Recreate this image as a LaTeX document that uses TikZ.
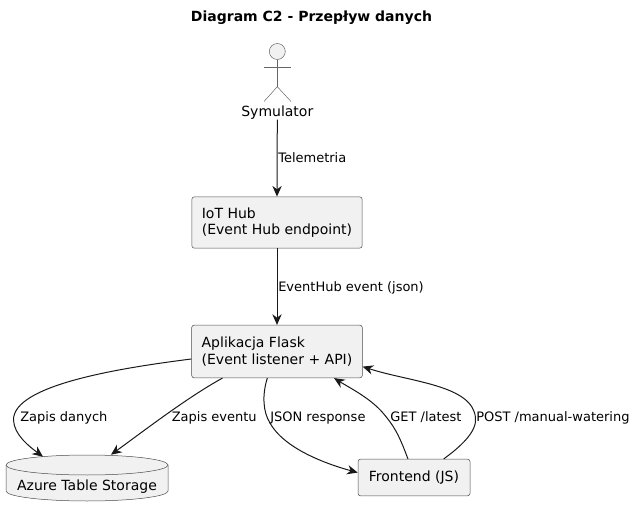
\documentclass[tikz,border=0pt]{standalone}
\usepackage{fontspec}
\setmainfont{DejaVu Sans}
\usetikzlibrary{%
  arrows.meta,%
  calc%
}

\begin{document}
\begin{tikzpicture}[
  x=0.75pt, y=-0.75pt,
  font=\fontsize{10.5}{12.3}\selectfont,
  >={Stealth[length=8pt,width=7pt,inset=2.6pt]},
  box/.style={rectangle, draw=black!70, fill=black!5.5, line width=0.375pt, rounded corners=1.9pt, align=left, inner xsep=7.5pt, inner ysep=0pt},
  store/.style={draw=black!70, line width=0.375pt},
  stick/.style={draw=black!60, line width=0.375pt},
  flow/.style={->, draw=black!90, line width=0.75pt},
  edgetext/.style={anchor=west, inner sep=0pt, text height=7.5pt, text depth=2pt, font=\fontsize{9.75}{12}\selectfont}
]
\useasboundingbox (0,0) rectangle (635,516);

\node[font=\fontsize{10.5}{12}\bfseries] (title) at (311.5,18) {Diagram C2 - Przepływ danych};

% actor
\node[circle, stick, fill=black!5.5, minimum size=12pt, inner sep=0pt] (head) at (277.3,51.5) {};
\coordinate (hip) at (277.3,86.7);
\coordinate (armL) at (264,67);
\coordinate (armR) at (291,67);
\coordinate (legL) at (264,101.5);
\coordinate (legR) at (291,101.5);
\draw[stick] (head) -- (hip);
\draw[stick] (armL) -- (armR);
\draw[stick] (legL) -- (hip) -- (legR);
\node[inner sep=0pt] (sym) at (277.3,112.5) {Symulator};

\node[box, minimum width=127.5pt, minimum height=38.5pt] (iot) at (277,222.5) {IoT Hub\\(Event Hub endpoint)};
\node[box, minimum width=127.5pt, minimum height=39.5pt] (flask) at (277,351.5) {Aplikacja Flask\\(Event listener + API)};
\node[box, minimum width=84pt, minimum height=27.5pt] (front) at (414,477.5) {Frontend (JS)};

% database
\coordinate (dbc) at (87,478);
\draw[store, fill=black!5.5] ($(dbc)+(-60.75pt,9.75pt)$) arc[start angle=180, end angle=0, x radius=60.75pt, y radius=7.5pt]
  -- ($(dbc)+(60.75pt,-9.75pt)$) arc[start angle=0, end angle=-180, x radius=60.75pt, y radius=7.5pt] -- cycle;
\draw[store] ($(dbc)+(-60.75pt,9.75pt)$) arc[start angle=180, end angle=360, x radius=60.75pt, y radius=7.5pt];
\node[minimum width=121.5pt, minimum height=34.5pt, inner sep=0pt] (db) at (dbc) {\raisebox{-9.5pt}[0pt][0pt]{Azure Table Storage}};

\draw[flow] (sym.south) -- (iot.north);
\draw[flow] (iot.south) -- (flask.north);

\draw[flow] (flask.185) .. controls (120,368) and (13,385) .. (13.5,420) .. controls (14,435) and (30,447) .. ($(db.north)+(-44,2)$);
\draw[flow] (flask.206) .. controls (188,397) and (145,430) .. ($(db.north)+(24,0)$);
\draw[flow] (flask.250) .. controls (262,395) and (263,412) .. (270,423) .. controls (285,450) and (330,465) .. (front.175);
\draw[flow] (front.108) .. controls (398,432) and (393,425) .. (383,413) .. controls (370,398) and (350,388) .. (flask.335);
\draw[flow] (front.32) .. controls (460,447) and (477,432) .. (475.5,418) .. controls (473,385) and (410,382) .. (flask.-10);

\node[edgetext] (l1) at (278,159) {Telemetria};
\node[edgetext] (l2) at (278,288) {EventHub event (json)};
\node[edgetext] (l3) at (20,417.5) {Zapis danych};
\node[edgetext] (l4) at (171.5,417.5) {Zapis eventu};
\node[edgetext] (l5) at (270,417.5) {JSON response};
\node[edgetext] (l6) at (390,417.5) {GET /latest};
\node[edgetext] (l7) at (476,417.5) {POST /manual-watering};
\end{tikzpicture}
\end{document}
